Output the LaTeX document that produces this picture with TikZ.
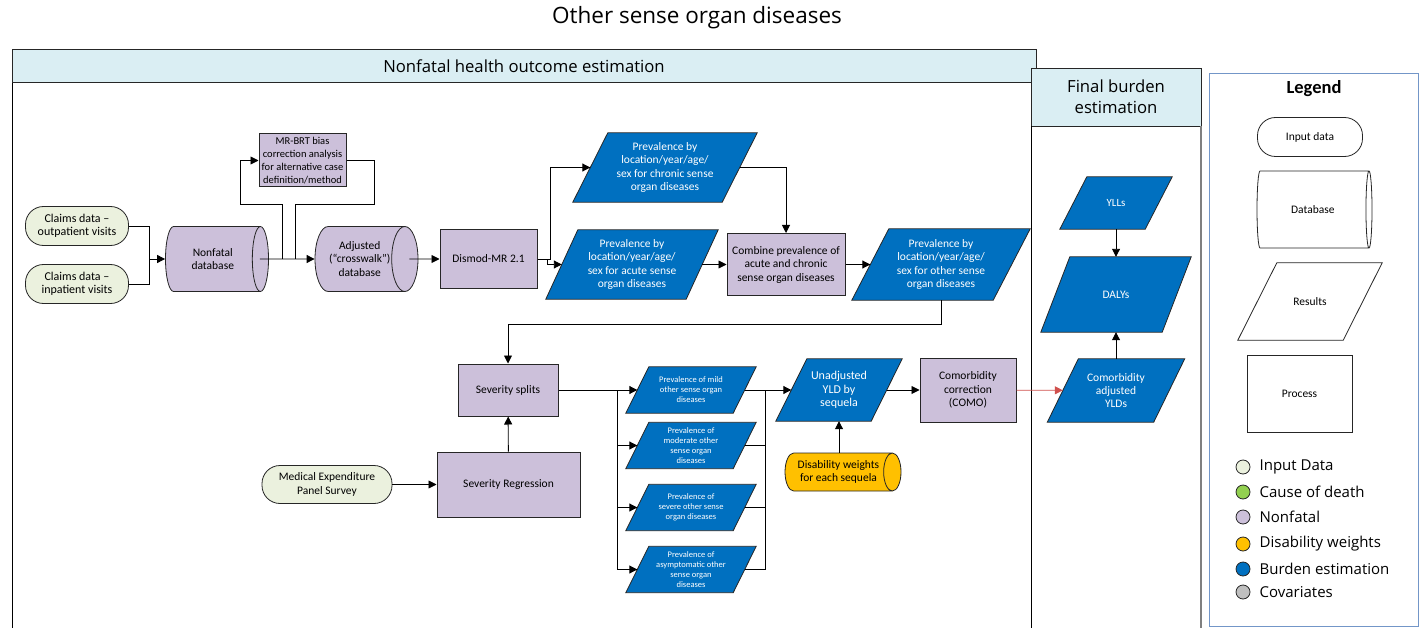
\documentclass[tikz,border=0pt]{standalone}
\usepackage{fontspec}
\setmainfont{Carlito}
\newfontfamily\uifont{Open Sans}
\usetikzlibrary{arrows.meta,positioning,shapes.geometric,calc,backgrounds}

\definecolor{nfpurple}{HTML}{CCC0DA}
\definecolor{burdenblue}{HTML}{0070C0}
\definecolor{inputgreen}{HTML}{EBF1DE}
\definecolor{dwyellow}{HTML}{FFC000}
\definecolor{headblue}{HTML}{DAEEF3}
\definecolor{codgreen}{HTML}{92D050}
\definecolor{covgray}{HTML}{BFBFBF}
\definecolor{legblue}{HTML}{7396C8}
\definecolor{outline}{HTML}{262626}
\definecolor{comored}{HTML}{D0504D}

\newcommand{\fsz}[2]{\fontsize{#1}{#2}\selectfont}

\tikzset{
  x=1pt, y=-1pt,
  arr/.style={-{Triangle[length=8pt,width=8pt]}, line width=0.9pt},
  link/.style={line width=0.9pt},
  inputdata/.style={draw=outline, line width=0.8pt, fill=inputgreen, rounded corners=18pt,
    align=center, inner sep=0pt, font=\fsz{12}{13.5}},
  procbox/.style={draw=outline, line width=1pt, fill=nfpurple, align=center,
    inner sep=0pt, font=\fsz{11.5}{13.5}},
  dbase/.style={cylinder, shape border rotate=0, aspect=0.75, draw=outline, line width=0.8pt,
    fill=nfpurple, align=center, inner sep=0pt, anchor=shape center, font=\fsz{11.5}{13.5}},
  result/.style={align=center, inner sep=0pt, text=white, font=\fsz{11.5}{13.5}},
  sevres/.style={result, font=\fsz{8.5}{10}, minimum width=107pt, minimum height=46pt},
  slantbox/.style={draw=outline, line width=0.8pt, fill=burdenblue},
  panelhead/.style={fill=headblue, draw=outline, line width=0.9pt},
  legdot/.style={circle, draw=outline, line width=0.8pt, minimum size=14pt, inner sep=0pt},
  legtext/.style={font=\uifont\fsz{15}{18}, inner sep=0pt},
}

\begin{document}
\begin{tikzpicture}
\useasboundingbox (0,0) rectangle (1420,628);

% title and panels
\node[font=\uifont\fsz{22.5}{26}] (title) at (697,18) {Other sense organ diseases};

\begin{pgfonlayer}{background}
\draw[line width=0.9pt] (12,628) -- (12,49) -- (1036,49) -- (1036,628);
\draw[panelhead] (12,49) rectangle (1036,82);
\fill[white] (1031,68) rectangle (1201,640);
\draw[panelhead] (1031,68) rectangle (1201,126);
\draw[line width=0.9pt] (1031,126) -- (1031,628);
\draw[line width=1.4pt, gray] (1201,126) -- (1201,628);
\draw[legblue, line width=0.8pt] (1209,73) rectangle (1418,626);
\end{pgfonlayer}
\node[font=\uifont\fsz{16.7}{19}] (nfhead) at (524,66) {Nonfatal health outcome estimation};
\node[font=\uifont\fsz{16.7}{21}, align=center] (fbhead) at (1116,97) {Final burden\\estimation};

% inputs and databases
\node[inputdata, minimum width=103pt, minimum height=39pt] (outpt) at (77,226) {Claims data –\\outpatient visits};
\node[inputdata, minimum width=103pt, minimum height=39pt] (inpt) at (77,284) {Claims data –\\inpatient visits};
\node[dbase, minimum height=103pt, minimum width=65pt] (nfdb) at (217,259) {Nonfatal\\database};
\node[procbox, font=\fsz{10.5}{13}, minimum width=87pt, minimum height=53pt] (mrbrt) at (302.5,160.5) {MR-BRT bias\\correction analysis\\for alternative case\\definition/method};
\node[dbase, minimum height=103pt, minimum width=65pt] (xwdb) at (366.5,259) {Adjusted\\(“crosswalk”)\\database};
\node[procbox, minimum width=97pt, minimum height=59pt] (dismod) at (488.5,259) {Dismod-MR 2.1};

% prevalence results
\node[result, minimum width=149pt, minimum height=69pt] (chronic) at (665,167.5) {Prevalence by\\location/year/age/\\sex for chronic sense\\organ diseases};
\node[result, minimum width=140pt, minimum height=69pt] (acute) at (632,264.5) {Prevalence by\\location/year/age/\\sex for acute sense\\organ diseases};
\node[procbox, minimum width=118pt, minimum height=62pt] (combine) at (786,264.5) {Combine prevalence of\\acute and chronic\\sense organ diseases};
\node[result, minimum width=141pt, minimum height=71pt] (other) at (941,264.5) {Prevalence by\\location/year/age/\\sex for other sense\\organ diseases};

% severity
\node[procbox, minimum width=100pt, minimum height=52pt] (splits) at (508,390) {Severity splits};
\node[procbox, minimum width=143pt, minimum height=65pt] (sevreg) at (508.5,484.5) {Severity Regression};
\node[inputdata, minimum width=130pt, minimum height=38pt, font=\fsz{11.5}{14}] (meps) at (327,484.5) {Medical Expenditure\\Panel Survey};
\node[sevres] (mild) at (691,390) {Prevalence of mild\\other sense organ\\diseases};
\node[sevres] (moderate) at (691,445.5) {Prevalence of\\moderate other\\sense organ\\diseases};
\node[sevres] (severe) at (691,507.5) {Prevalence of\\severe other sense\\organ diseases};
\node[sevres] (asympt) at (691,569.5) {Prevalence of\\asymptomatic other\\sense organ\\diseases};

% YLDs
\node[result, font=\fsz{12}{13.5}, minimum width=95pt, minimum height=62pt] (unadj) at (839,390) {Unadjusted\\YLD by\\sequela};
\node[dbase, fill=dwyellow, minimum height=116pt, minimum width=38pt, font=\fsz{11.5}{13.3}] (dwts) at (843,472) {Disability weights\\for each sequela};
\node[procbox, minimum width=96pt, minimum height=64pt] (como) at (968,390) {Comorbidity\\correction\\(COMO)};

% final burden
\node[result, font=\fsz{11}{12}, minimum width=85pt, minimum height=52pt] (ylls) at (1116,203) {YLLs};
\node[result, font=\fsz{11.5}{12}, minimum width=121pt, minimum height=75pt] (dalys) at (1116,294.5) {DALYs};
\node[result, font=\fsz{11.5}{13.3}, minimum width=106pt, minimum height=63pt] (comyld) at (1116,390.5) {Comorbidity\\adjusted\\YLDs};

% legend
\node[font=\bfseries\fsz{18.5}{20}] (legtitle) at (1314,89) {Legend};
\node[inputdata, fill=white, font=\fsz{11.5}{13}, minimum width=105pt, minimum height=39pt] (leginput) at (1310,137) {Input data};
\node[dbase, fill=white, font=\fsz{11.5}{13}, minimum height=115pt, minimum width=77pt] (legdb) at (1314.5,209.5) {Database};
\node[result, text=black, minimum width=105pt, minimum height=77pt] (legres) at (1310,301.5) {Results};
\node[draw=outline, line width=0.8pt, font=\fsz{11.5}{13}, minimum width=105pt, minimum height=77pt] (legproc) at (1299.5,393.5) {Process};
\foreach \y/\col/\lab [count=\i] in {467/inputgreen/Input Data, 492/codgreen/Cause of death, 517/nfpurple/Nonfatal, 544/dwyellow/Disability weights, 569/burdenblue/Burden estimation, 592/covgray/Covariates} {
  \node[legdot, fill=\col] (dot\i) at (1243,\y) {};
  \node[legtext, right=9pt of dot\i] (lab\i) {\lab};
}

% slanted result shapes behind their labels
\begin{pgfonlayer}{background}
\foreach \n/\s in {chronic/35, acute/32, other/37, mild/23, moderate/23, severe/23, asympt/23, unadj/31, ylls/27, dalys/29, comyld/31}
  \filldraw[slantbox] ($(\n.south west)+(-\s/2,0)$) -- ($(\n.south east)+(-\s/2,0)$)
    -- ($(\n.north east)+(\s/2,0)$) -- ($(\n.north west)+(\s/2,0)$) -- cycle;
\filldraw[slantbox, fill=white] ($(legres.south west)+(-19.5,0)$) -- ($(legres.south east)+(-19.5,0)$)
    -- ($(legres.north east)+(19.5,0)$) -- ($(legres.north west)+(19.5,0)$) -- cycle;
\end{pgfonlayer}

% connectors
\coordinate (claimsjoin) at (149,259);
\coordinate (loopout) at (282,259);
\coordinate (loopin) at (295,259);
\draw[link] (outpt.east) -| (claimsjoin);
\draw[link] (inpt.east) -| (claimsjoin);
\draw[arr] (claimsjoin) -- (nfdb.west);
\draw[arr] ($(nfdb.east)+(-9,0)$) -- (xwdb.west);
\draw[arr] (loopout) -- ++(0,-55) -- ++(-42,0) |- (mrbrt.west);
\draw[link] (mrbrt.east) -- ++(28,0) -- ++(0,43.5) -| (loopin);
\draw[arr] ($(xwdb.east)+(-9,0)$) -- (dismod.west);
\draw[arr] (dismod.east) -- ++(13,0) |- (chronic);
\draw[arr] (dismod.east) -- ++(10,0) |- (acute);
\draw[arr] (chronic) -| (combine);
\draw[arr] (acute) -- (combine);
\draw[arr] (combine) -- (other);
\draw[arr] (other.south) -- ++(0,24) -| (splits);
\draw[arr] (sevreg) -- (splits);
\draw[arr] (meps) -- (sevreg);

\coordinate (splitbus) at (617,390);
\coordinate (yldbus) at (765,390);
\draw[link] (splits) -- (splitbus) -- (splitbus |- asympt);
\foreach \sev in {mild,moderate,severe,asympt} {
  \draw[arr] (splitbus |- \sev) -- (\sev);
  \draw[link] (\sev) -- (yldbus |- \sev);
}
\draw[link] (yldbus) -- (yldbus |- asympt);
\draw[arr] (yldbus) -- (unadj);
\draw[arr] (dwts.north -| unadj.south) -- (unadj.south);
\draw[arr] (unadj) -- (como);
\draw[arr, comored, line width=0.7pt] (como) -- (comyld);
\draw[arr] (ylls) -- (dalys);
\draw[arr] (comyld) -- (dalys);

\end{tikzpicture}
\end{document}
